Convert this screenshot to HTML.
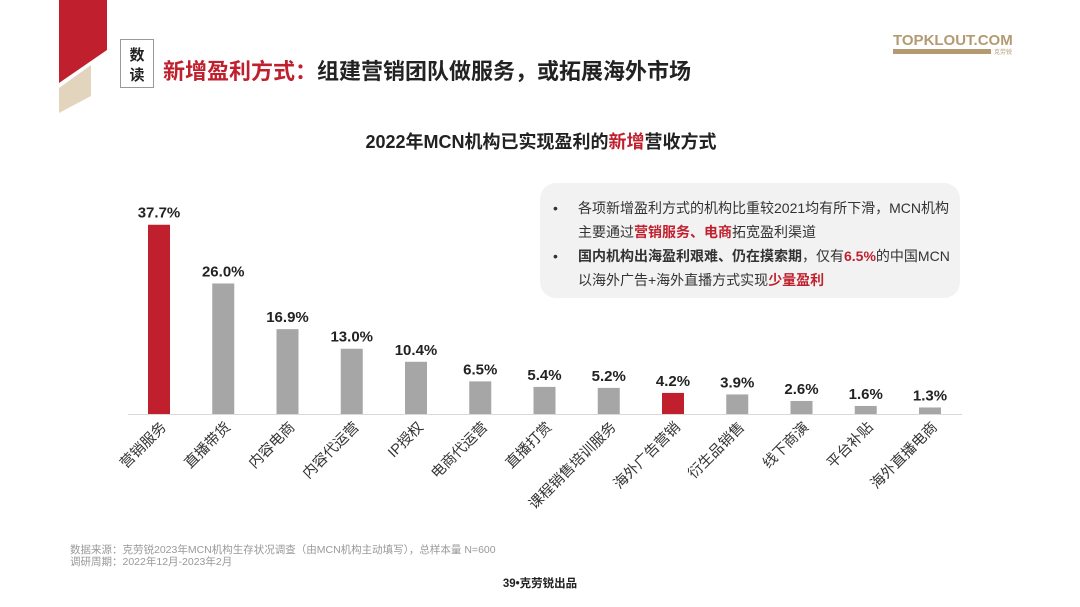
<!DOCTYPE html>
<html><head><meta charset="utf-8"><style>
html,body{margin:0;padding:0;background:#fff;}
svg{display:block;font-family:"Liberation Sans","Noto Sans CJK SC",sans-serif;}
</style></head><body>
<svg id="s" width="1080" height="607" viewBox="0 0 1080 607">
<polygon points="59,0 107,0 107,50 59,83" fill="#c0202e"/>
<polygon points="91,65 91,96 59,113 59,88" fill="#e3d5bd"/>
<rect x="120.5" y="39.5" width="33" height="48" fill="#fff" stroke="#999"/>
<text x="137" y="60" text-anchor="middle" font-size="15" font-weight="bold" fill="#222">数</text>
<text x="137" y="80" text-anchor="middle" font-size="15" font-weight="bold" fill="#222">读</text>
<text x="163" y="79" font-size="22" font-weight="bold" fill="#222"><tspan fill="#c0202e">新增盈利方式：</tspan>组建营销团队做服务，或拓展海外市场</text>
<text x="893" y="45" font-size="15" font-weight="bold" fill="#b39a72">TOPKLOUT.COM</text>
<rect x="893" y="49" width="98" height="5" fill="#b39a72"/>
<text x="994" y="54" font-size="6" fill="#b39a72">克劳锐</text>
<text x="541" y="148" text-anchor="middle" font-size="18" font-weight="bold" fill="#222">2022年MCN机构已实现盈利的<tspan fill="#c0202e">新增</tspan>营收方式</text>
<rect x="540" y="183" width="420" height="115" rx="16" fill="#f2f2f2"/>
<g font-size="14" fill="#333">
<text x="553" y="213">•</text>
<text x="578" y="213">各项新增盈利方式的机构比重较2021均有所下滑，MCN机构</text>
<text x="578" y="237">主要通过<tspan fill="#c0202e" font-weight="bold">营销服务、电商</tspan>拓宽盈利渠道</text>
<text x="553" y="261">•</text>
<text x="578" y="261"><tspan font-weight="bold">国内机构出海盈利艰难、仍在摸索期</tspan>，仅有<tspan fill="#c0202e" font-weight="bold">6.5%</tspan>的中国MCN</text>
<text x="578" y="285">以海外广告+海外直播方式实现<tspan fill="#c0202e" font-weight="bold">少量盈利</tspan></text>
</g>
<line x1="128" y1="414.5" x2="962" y2="414.5" stroke="#d9d9d9"/>
<g id="bars"></g>
<text x="70" y="553" font-size="10.5" fill="#999">数据来源：克劳锐2023年MCN机构生存状况调查（由MCN机构主动填写），总样本量 N=600</text>
<text x="70" y="565" font-size="10.5" fill="#999">调研周期：2022年12月-2023年2月</text>
<text x="540" y="587" text-anchor="middle" font-size="11.5" font-weight="bold" fill="#222">39•克劳锐出品</text>
</svg>
<script>
const categories=["营销服务","直播带货","内容电商","内容代运营","IP授权","电商代运营","直播打赏","课程销售培训服务","海外广告营销","衍生品销售","线下商演","平台补贴","海外直播电商"];
const values=[37.7,26.0,16.9,13.0,10.4,6.5,5.4,5.2,4.2,3.9,2.6,1.6,1.3];
const highlighted=[0,8];
const NS="http://www.w3.org/2000/svg";
const g=document.getElementById("bars");
const x0=159,step=64.25,base=414,k=5.02,bw=22;
function xs(i){return x0+i*step;}
function ys(v){return base-v*k;}
categories.forEach((c,i)=>{
  const v=values[i],cx=xs(i),y=ys(v);
  const r=document.createElementNS(NS,"rect");
  r.setAttribute("x",cx-bw/2);r.setAttribute("y",y);r.setAttribute("width",bw);r.setAttribute("height",base-y);
  r.setAttribute("fill",highlighted.includes(i)?"#c0202e":"#a6a6a6");
  
  
  g.appendChild(r);
  const t=document.createElementNS(NS,"text");
  t.setAttribute("x",cx);t.setAttribute("y",y-7);t.setAttribute("text-anchor","middle");
  t.setAttribute("font-size","15");t.setAttribute("font-weight","bold");t.setAttribute("fill","#222");
  t.textContent=v.toFixed(1)+"%";
  
  
  g.appendChild(t);
  const l=document.createElementNS(NS,"text");
  const lx=cx+8,ly=428;
  l.setAttribute("x",lx);l.setAttribute("y",ly);l.setAttribute("text-anchor","end");
  l.setAttribute("font-size","14.5");l.setAttribute("fill","#333");
  l.setAttribute("transform","rotate(-45 "+lx+" "+ly+")");
  l.textContent=c;
  
  
  g.appendChild(l);
});
</script>
</body></html>
